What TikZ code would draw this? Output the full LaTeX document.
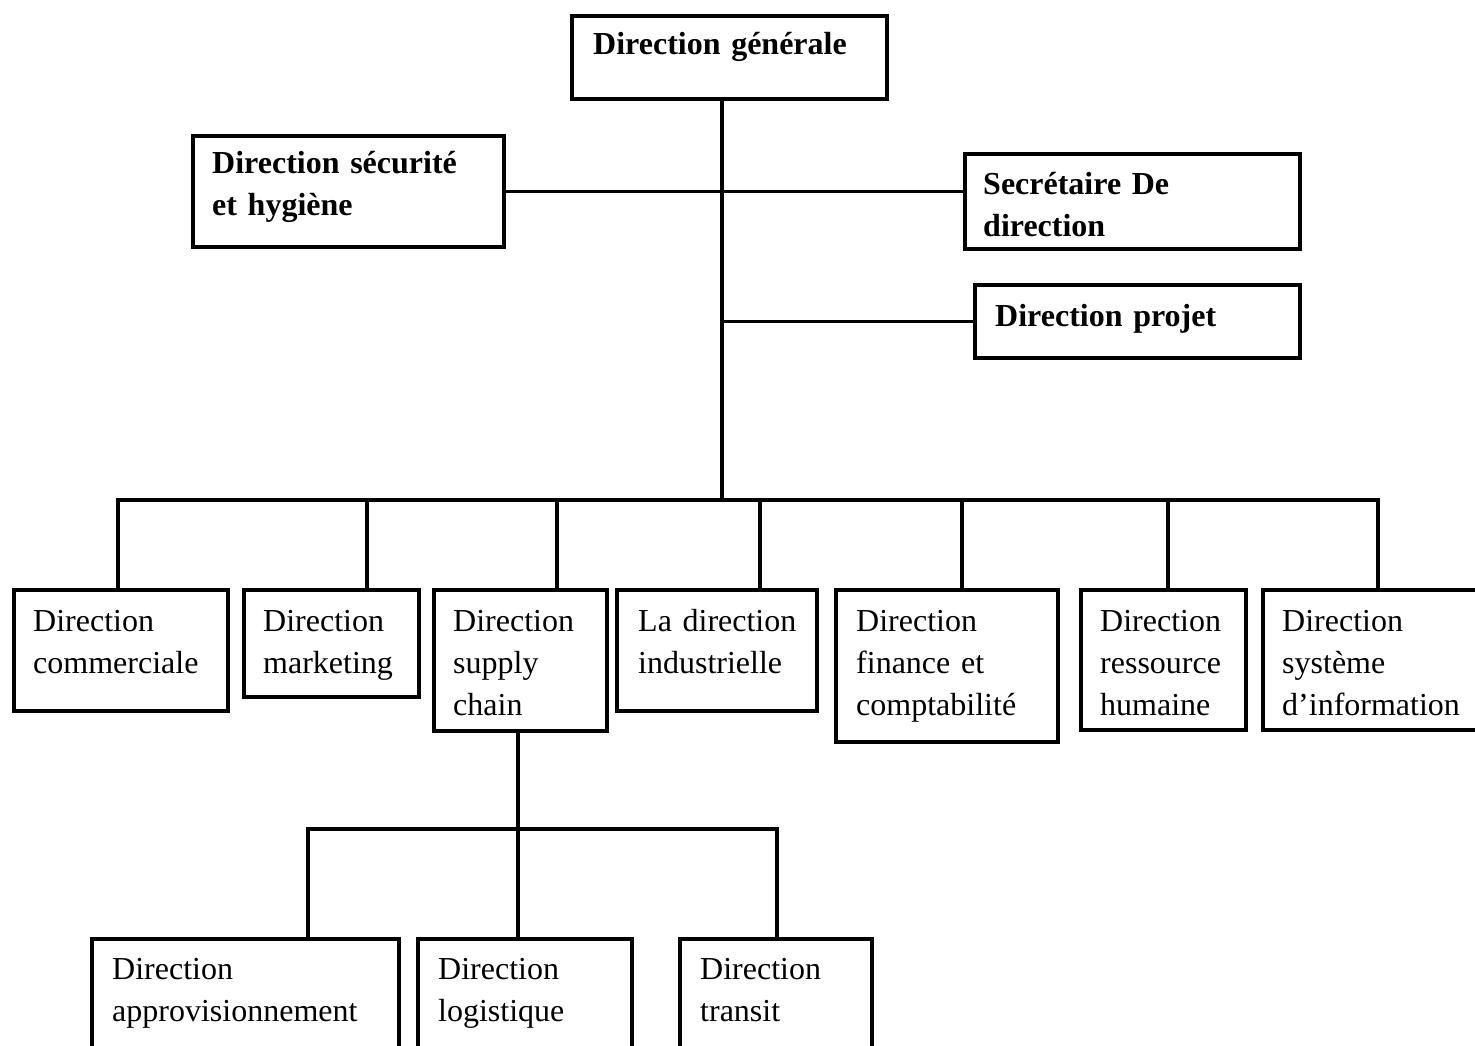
\documentclass[tikz,border=0pt]{standalone}
\usepackage{fontspec}
\setmainfont{Liberation Serif}
\usetikzlibrary{positioning}

\begin{document}
\begin{tikzpicture}[x=1pt,y=-1pt,
  box/.style={draw, line width=3.5pt, anchor=north west, inner sep=0pt},
  lbl/.style={anchor=base west, align=left, text width=400pt, inner sep=0pt, font=\fontsize{32}{42}\selectfont},
  blbl/.style={lbl, font=\fontsize{32}{42}\selectfont\bfseries},
  link/.style={line width=3.5pt}]
\useasboundingbox (0,0) rectangle (1475,1045);

%top
\node[box, minimum width=315pt, minimum height=83pt] (dg) at (570,14) {};
\node[blbl] (dgt) at (593,54) {Direction générale};
\node[box, minimum width=311pt, minimum height=111pt] (sec) at (191,134) {};
\node[blbl] (sect) at (212,173) {Direction sécurité\\et hygiène};
\node[box, minimum width=335pt, minimum height=95pt] (scr) at (963,152) {};
\node[blbl] (scrt) at (983,194) {Secrétaire De\\direction};
\node[box, minimum width=325pt, minimum height=73pt] (proj) at (973,283) {};
\node[blbl] (projt) at (995,326) {Direction projet};

%middle row
\node[box, minimum width=214pt, minimum height=121pt] (com) at (12,588) {};
\node[lbl] (comt) at (33,631) {Direction\\commerciale};
\node[box, minimum width=175pt, minimum height=107pt] (mkt) at (242,588) {};
\node[lbl] (mktt) at (263,631) {Direction\\marketing};
\node[box, minimum width=173pt, minimum height=141pt] (sup) at (432,588) {};
\node[lbl] (supt) at (453,631) {Direction\\supply\\chain};
\node[box, minimum width=200pt, minimum height=121pt] (ind) at (615,588) {};
\node[lbl] (indt) at (638,631) {La direction\\industrielle};
\node[box, minimum width=222pt, minimum height=152pt] (fin) at (834,588) {};
\node[lbl] (fint) at (856,631) {Direction\\finance et\\comptabilité};
\node[box, minimum width=165pt, minimum height=140pt] (rh) at (1079,588) {};
\node[lbl] (rht) at (1100,631) {Direction\\ressource\\humaine};
\node[box, minimum width=240pt, minimum height=140pt] (si) at (1261,588) {};
\node[lbl] (sit) at (1282,631) {Direction\\système\\d’information};

%supply chain
\node[box, minimum width=307pt, minimum height=140pt] (appro) at (90,937) {};
\node[lbl] (approt) at (112,979) {Direction\\approvisionnement};
\node[box, minimum width=214pt, minimum height=140pt] (log) at (416,937) {};
\node[lbl] (logt) at (438,979) {Direction\\logistique};
\node[box, minimum width=192pt, minimum height=140pt] (tra) at (678,937) {};
\node[lbl] (trat) at (700,979) {Direction\\transit};

%links
\coordinate (j0) at (722,500);
\coordinate (j1) at (118,500);
\coordinate (j2) at (367,500);
\coordinate (j3) at (557,500);
\coordinate (j4) at (760,500);
\coordinate (j5) at (962,500);
\coordinate (j6) at (1168,500);
\coordinate (j7) at (1378,500);
\draw[link] (j0 |- dg.south) -- (j0);
\draw[link] (sec.east) -- (sec.east -| scr.west);
\draw[link] (proj.west) -- (proj.west -| j0);
\draw[link] (j1 |- com.north) -- (j1) -- (j7) -- (j7 |- si.north);
\draw[link] (j2) -- (j2 |- mkt.north);
\draw[link] (j3) -- (j3 |- sup.north);
\draw[link] (j4) -- (j4 |- ind.north);
\draw[link] (j5) -- (j5 |- fin.north);
\draw[link] (j6) -- (j6 |- rh.north);

\coordinate (s0) at (518,829);
\coordinate (s1) at (308,829);
\coordinate (s3) at (777,829);
\draw[link] (s0 |- sup.south) -- (s0);
\draw[link] (s1 |- appro.north) -- (s1) -- (s3) -- (s3 |- tra.north);
\draw[link] (s0) -- (s0 |- log.north);
\end{tikzpicture}
\end{document}
